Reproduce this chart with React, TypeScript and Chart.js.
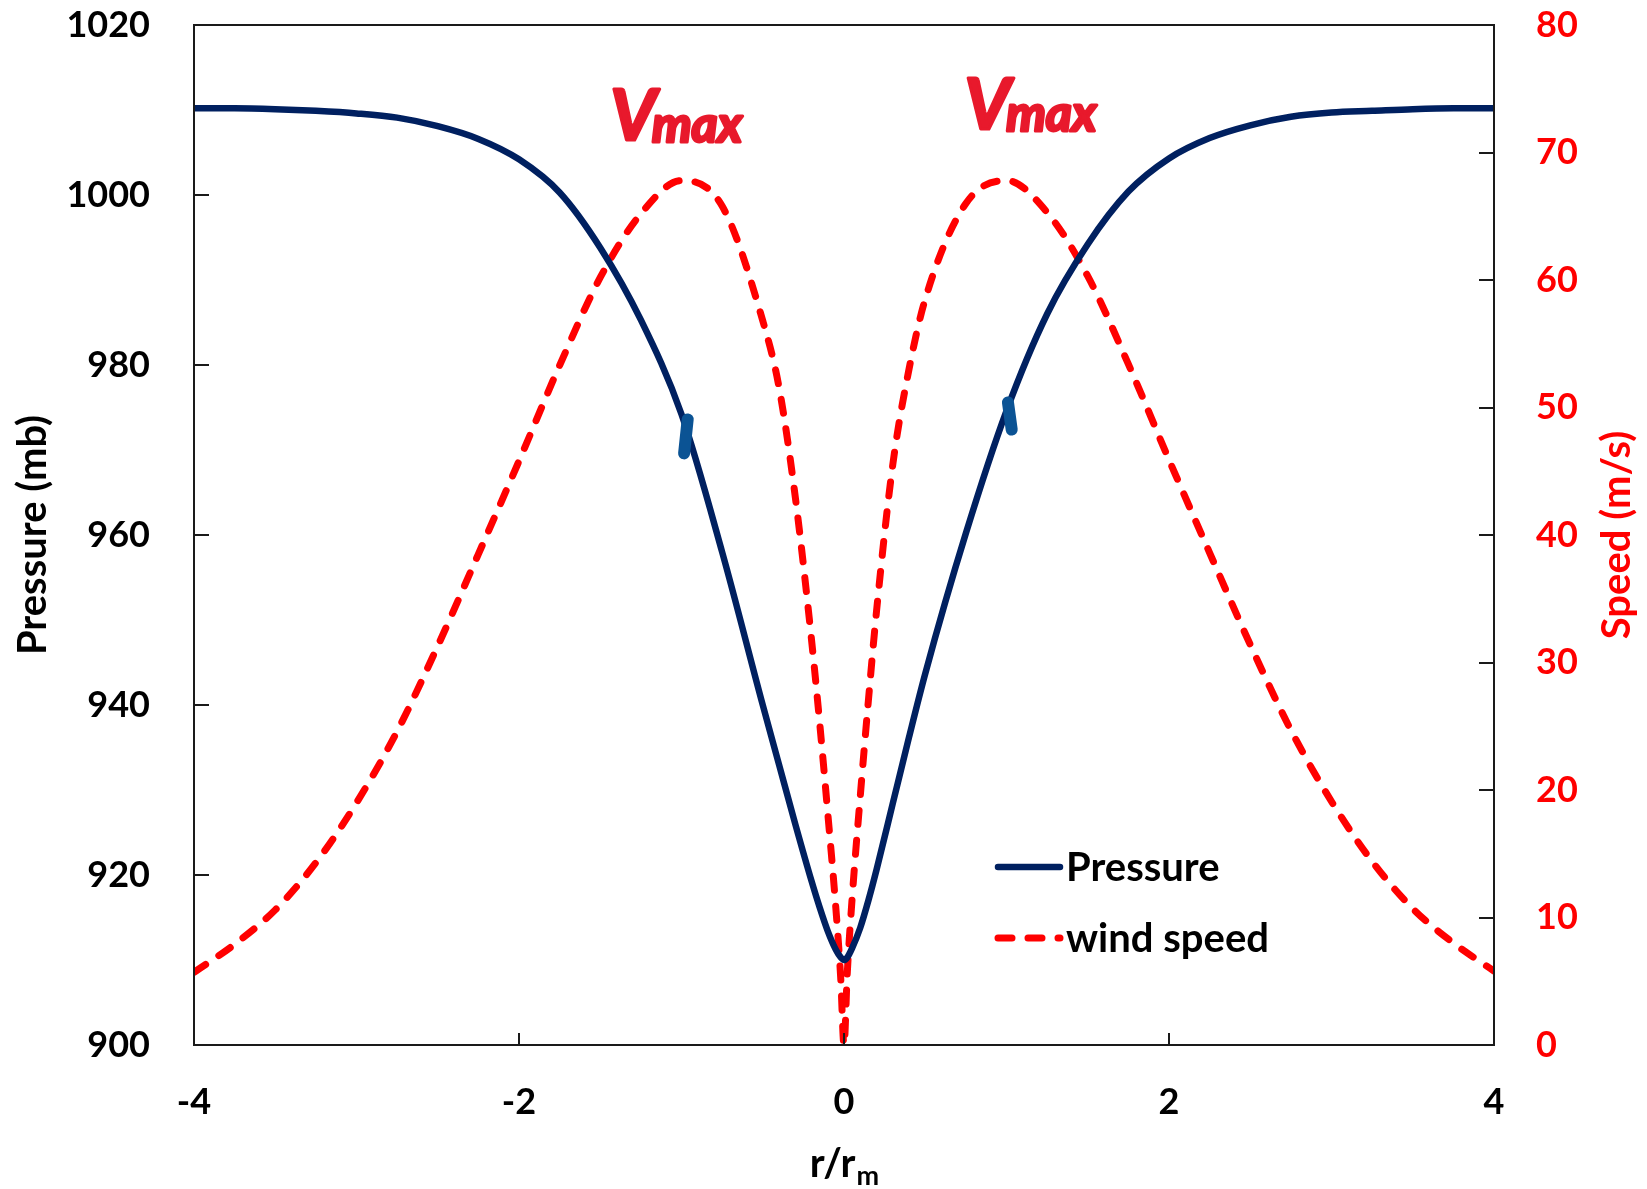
import { useEffect, useRef } from "react";
import { Chart, registerables } from "chart.js";

Chart.register(...registerables);

// Normalised radius r/rm
const radius = [
  -4, -3.75, -3.5, -3.25, -3, -2.75, -2.5, -2.25, -2, -1.75, -1.5, -1.25, -1, -0.75, -0.5,
  -0.4, -0.3, -0.2, -0.15, -0.1, -0.05, -0.02, 0,
  0.02, 0.05, 0.1, 0.15, 0.2, 0.3, 0.4, 0.5, 0.75, 1, 1.25, 1.5, 1.75, 2, 2.25, 2.5, 2.75,
  3, 3.25, 3.5, 3.75, 4,
];

// Surface pressure (mb)
const pressure = [
  1010.2, 1010.2, 1010.1, 1009.9, 1009.6, 1009.1, 1008.1, 1006.6, 1004.2, 1000.3, 993.8, 985.3,
  974.2, 958.0, 940.0, 933.0, 926.0, 919.3, 916.2, 913.4, 911.2, 910.3, 910.0,
  910.3, 911.4, 913.8, 917.0, 920.6, 928.4, 936.2, 943.7, 960.2, 974.6, 986.0, 994.2, 1000.4,
  1004.3, 1006.7, 1008.2, 1009.2, 1009.7, 1009.9, 1010.1, 1010.2, 1010.2,
];

// Wind speed (m/s)
const windSpeed = [
  5.7, 7.9, 10.6, 14.3, 19.0, 24.6, 31.3, 38.5, 45.8, 53.3, 60.2, 65.2,
  67.8, 65.8, 56.8, 51.6, 43.0, 31.8, 25.3, 18.2, 10.7, 5.2, 0,
  5.6, 11.5, 19.5, 27.0, 34.0, 45.5, 53.0, 58.5, 66.0, 67.8, 65.3, 60.3, 53.4,
  45.9, 38.6, 31.4, 24.7, 19.1, 14.4, 10.7, 8.0, 5.8,
];

const radiusTicks = [-4, -2, 0, 2, 4];
const pressureTicks = [900, 920, 940, 960, 980, 1000, 1020];
const speedTicks = [0, 10, 20, 30, 40, 50, 60, 70, 80];

const seriesLabels = ["Pressure", "wind speed"];

// Hand-drawn markers on the pressure curve near r = ±rm, as [r, mb] end points
const rmMarks = [
  [[-0.962, 973.6], [-0.984, 969.6]],
  [[1.009, 975.6], [1.032, 972.4]],
];

// "Vmax" notes above the two wind maxima, centre in (r/rm, m/s)
const vmaxNotes = [
  { r: -1.02, v: 73.0 },
  { r: 1.16, v: 73.9 },
];

const FONT = "Lato, 'Open Sans', sans-serif";
const NAVY = "#002060";
const RED = "#FF0000";
const INK = "#E8192C";

const overlay = {
  id: "overlay",
  afterDraw(chart: any) {
    const { ctx, chartArea: a, scales } = chart;
    const sx = scales.x;
    const sy = scales.y;
    const sy1 = scales.y1;
    ctx.save();

    // plot frame
    ctx.strokeStyle = "#1a1a1a";
    ctx.lineWidth = 2;
    ctx.strokeRect(a.left, a.top, a.right - a.left, a.bottom - a.top);

    // inward tick marks
    ctx.beginPath();
    pressureTicks.slice(1, -1).forEach((v) => {
      const y = Math.round(sy.getPixelForValue(v));
      ctx.moveTo(a.left, y);
      ctx.lineTo(a.left + 15, y);
    });
    speedTicks.slice(1, -1).forEach((v) => {
      const y = Math.round(sy1.getPixelForValue(v));
      ctx.moveTo(a.right, y);
      ctx.lineTo(a.right - 15, y);
    });
    radiusTicks.slice(1, -1).forEach((v) => {
      const x = Math.round(sx.getPixelForValue(v));
      ctx.moveTo(x, a.bottom);
      ctx.lineTo(x, a.bottom - 12);
    });
    ctx.stroke();

    // axis titles
    const midY = (a.top + a.bottom) / 2;
    ctx.font = `bold 40px ${FONT}`;
    ctx.textAlign = "center";
    ctx.textBaseline = "middle";
    ctx.fillStyle = "#000";
    ctx.save();
    ctx.translate(33, midY);
    ctx.rotate(-Math.PI / 2);
    ctx.fillText("Pressure (mb)", 0, 0);
    ctx.restore();

    ctx.fillStyle = RED;
    ctx.save();
    ctx.translate(1617, midY);
    ctx.rotate(-Math.PI / 2);
    ctx.fillText("Speed (m/s)", 0, 0);
    ctx.restore();

    // x title r/r with subscript m
    ctx.fillStyle = "#000";
    ctx.textAlign = "left";
    ctx.textBaseline = "alphabetic";
    ctx.font = `bold 40px ${FONT}`;
    const main = "r/r";
    const wMain = ctx.measureText(main).width;
    ctx.font = `bold 27px ${FONT}`;
    const wSub = ctx.measureText("m").width;
    const cx = (a.left + a.right) / 2;
    const x0 = cx - (wMain + wSub) / 2;
    ctx.font = `bold 40px ${FONT}`;
    ctx.fillText(main, x0, 1177);
    ctx.font = `bold 27px ${FONT}`;
    ctx.fillText("m", x0 + wMain + 1, 1185);

    // legend
    const lx0 = 995;
    const lx1 = 1060;
    const ly = [867, 938];
    ctx.lineWidth = 6.5;
    ctx.lineCap = "round";
    ctx.strokeStyle = NAVY;
    ctx.beginPath();
    ctx.moveTo(lx0 + 3, ly[0]);
    ctx.lineTo(lx1, ly[0]);
    ctx.stroke();
    ctx.strokeStyle = RED;
    ctx.lineWidth = 7;
    ctx.setLineDash([14, 16]);
    ctx.beginPath();
    ctx.moveTo(lx0 + 3, ly[1]);
    ctx.lineTo(lx1, ly[1]);
    ctx.stroke();
    ctx.setLineDash([]);
    ctx.fillStyle = "#000";
    ctx.font = `bold 40px ${FONT}`;
    ctx.textBaseline = "middle";
    ctx.fillText(seriesLabels[0], 1066, ly[0] + 1);
    ctx.fillText(seriesLabels[1], 1066, ly[1] + 1);

    // hand-drawn r = rm markers
    ctx.strokeStyle = "#0B5394";
    ctx.lineWidth = 12;
    ctx.lineCap = "round";
    rmMarks.forEach(([p, q]) => {
      ctx.beginPath();
      ctx.moveTo(sx.getPixelForValue(p[0]), sy.getPixelForValue(p[1]));
      ctx.lineTo(sx.getPixelForValue(q[0]), sy.getPixelForValue(q[1]));
      ctx.stroke();
    });

    // Vmax notes
    ctx.fillStyle = INK;
    ctx.strokeStyle = INK;
    ctx.lineWidth = 3;
    ctx.lineJoin = "round";
    ctx.textBaseline = "alphabetic";
    vmaxNotes.forEach((n) => {
      const px = sx.getPixelForValue(n.r);
      const py = sy1.getPixelForValue(n.v);
      ctx.font = `bold italic 70px ${FONT}`;
      const wV = ctx.measureText("V").width;
      ctx.font = `bold italic 50px ${FONT}`;
      const wM = ctx.measureText("max").width;
      const left = px - (wV + wM) / 2;
      const base = py + 26;
      ctx.font = `bold italic 70px ${FONT}`;
      ctx.fillText("V", left, base);
      ctx.strokeText("V", left, base);
      ctx.font = `bold italic 50px ${FONT}`;
      ctx.fillText("max", left + wV - 4, base + 2);
      ctx.strokeText("max", left + wV - 4, base + 2);
    });

    ctx.restore();
  },
};

export default function App() {
  const ref = useRef<HTMLCanvasElement | null>(null);

  useEffect(() => {
    if (!ref.current) return;
    const tickFont = { family: FONT, weight: "bold" as const, size: 36 };
    const plain = (v: any) => String(v);
    const chart = new Chart(ref.current, {
      type: "scatter",
      data: {
        datasets: [
          {
            label: seriesLabels[0],
            data: radius.map((r, i) => ({ x: r, y: pressure[i] })),
            yAxisID: "y",
            showLine: true,
            borderColor: NAVY,
            backgroundColor: NAVY,
            borderWidth: 6.5,
            pointRadius: 0,
            cubicInterpolationMode: "monotone",
            borderCapStyle: "round",
            borderJoinStyle: "round",
          },
          {
            label: seriesLabels[1],
            data: radius.map((r, i) => ({ x: r, y: windSpeed[i] })),
            yAxisID: "y1",
            showLine: true,
            borderColor: RED,
            backgroundColor: RED,
            borderWidth: 7,
            borderDash: [14, 16],
            borderCapStyle: "round",
            pointRadius: 0,
            cubicInterpolationMode: "monotone",
          },
        ],
      },
      options: {
        responsive: false,
        devicePixelRatio: 1,
        animation: false,
        layout: { padding: { top: 25, left: 0, right: 0, bottom: 0 } },
        plugins: {
          legend: { display: false },
          tooltip: { enabled: false },
          title: { display: false },
        },
        scales: {
          x: {
            type: "linear",
            position: "bottom",
            min: -4,
            max: 4,
            afterBuildTicks: (s: any) => {
              s.ticks = radiusTicks.map((v) => ({ value: v }));
            },
            afterFit: (s: any) => {
              s.height = 144;
              s.paddingLeft = 0;
              s.paddingRight = 0;
            },
            grid: { display: false, drawTicks: false },
            border: { display: false },
            ticks: { font: tickFont, color: "#000", padding: 36, maxRotation: 0, callback: plain },
          },
          y: {
            type: "linear",
            position: "left",
            min: 900,
            max: 1020,
            afterBuildTicks: (s: any) => {
              s.ticks = pressureTicks.map((v) => ({ value: v }));
            },
            afterFit: (s: any) => {
              s.width = 194;
              s.paddingTop = 0;
              s.paddingBottom = 0;
            },
            grid: { display: false, drawTicks: false },
            border: { display: false },
            ticks: { font: tickFont, color: "#000", padding: 44, callback: plain },
          },
          y1: {
            type: "linear",
            position: "right",
            min: 0,
            max: 80,
            afterBuildTicks: (s: any) => {
              s.ticks = speedTicks.map((v) => ({ value: v }));
            },
            afterFit: (s: any) => {
              s.width = 153;
              s.paddingTop = 0;
              s.paddingBottom = 0;
            },
            grid: { display: false, drawTicks: false },
            border: { display: false },
            ticks: { font: tickFont, color: RED, padding: 42, callback: plain },
          },
        },
      },
      plugins: [overlay],
    });
    return () => chart.destroy();
  }, []);

  return (
    <div
      style={{
        position: "fixed",
        left: 0,
        top: 0,
        width: 1647,
        height: 1189,
        background: "#fff",
      }}
    >
      <canvas ref={ref} width={1647} height={1189} style={{ width: 1647, height: 1189, display: "block" }} />
    </div>
  );
}
